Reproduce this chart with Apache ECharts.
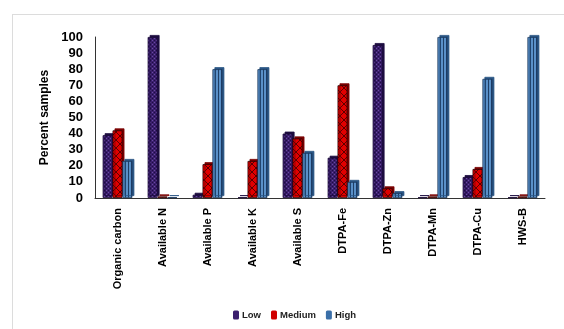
<!DOCTYPE html>
<html>
<head>
<meta charset="utf-8">
<script src="https://cdn.jsdelivr.net/npm/echarts@6/dist/echarts.min.js"></script>
<style>
  html, body { margin: 0; padding: 0; background: #fff; }
  #frame { position: absolute; left: 12px; top: 14px; width: 560px; height: 330px;
           border-left: 1px solid #dcdcdc; border-top: 1px solid #dcdcdc; }
  #chart { position: absolute; left: 0; top: 0; width: 564px; height: 329px; }
</style>
</head>
<body>
<div id="frame"></div>
<div id="chart"></div>
<script>
// Soil nutrient status: share of samples in each fertility class
const categories = ['Organic carbon', 'Available N', 'Available P', 'Available K', 'Available S',
                    'DTPA-Fe', 'DTPA-Zn', 'DTPA-Mn', 'DTPA-Cu', 'HWS-B'];
const lowValues    = [39, 100, 2, 0.5, 40, 25, 95, 0.5, 13, 0.5];
const mediumValues = [42, 1, 21, 23, 37, 70, 6, 1, 18, 1];
const highValues   = [23, 0.5, 80, 80, 28, 10, 3, 100, 74, 100];
const yTicks = [0, 10, 20, 30, 40, 50, 60, 70, 80, 90, 100];

// Small tiled fills for the bar faces
function tile(w, h, draw) {
  const c = document.createElement('canvas');
  c.width = w; c.height = h;
  draw(c.getContext('2d'));
  return { image: c, repeat: 'repeat' };
}
const lowFill = tile(4, 4, g => {
  g.fillStyle = '#3b1f6e'; g.fillRect(0, 0, 4, 4);
  g.fillStyle = '#6a4aa0'; g.fillRect(0, 0, 1, 1); g.fillRect(2, 2, 1, 1);
  g.fillStyle = '#1e0c42'; g.fillRect(2, 0, 1, 1); g.fillRect(0, 2, 1, 1);
});
const medFill = tile(8, 8, g => {
  g.fillStyle = '#e00000'; g.fillRect(0, 0, 8, 8);
  g.strokeStyle = '#3a0000'; g.lineWidth = 0.8;
  g.beginPath();
  g.moveTo(0, 0); g.lineTo(8, 8);
  g.moveTo(8, 0); g.lineTo(0, 8);
  g.stroke();
});
const highFill = tile(3, 4, g => {
  g.fillStyle = '#5a90c8'; g.fillRect(0, 0, 3, 4);
  g.fillStyle = '#1f3f66'; g.fillRect(2, 0, 1, 4);
});

function barSeries(name, data, fill, edge, side) {
  return {
    name: name, type: 'bar', data: data, barGap: '0%', barCategoryGap: '34%',
    itemStyle: {
      color: fill, borderColor: edge, borderWidth: 0.8,
      shadowColor: side, shadowBlur: 0, shadowOffsetX: 2, shadowOffsetY: -2
    }
  };
}

const flat = { borderWidth: 0, shadowBlur: 0, shadowOffsetX: 0, shadowOffsetY: 0 };

const chart = echarts.init(document.getElementById('chart'), null, { renderer: 'canvas' });
chart.setOption({
  animation: false,
  textStyle: { fontFamily: 'Liberation Sans, Arial, sans-serif' },
  grid: { left: 95, right: 19, top: 37, bottom: 131 },
  legend: {
    bottom: 4, left: 228, itemWidth: 6, itemHeight: 9, itemGap: 10,
    textStyle: { fontSize: 9.5, fontWeight: 'bold', color: '#222', padding: [0, 0, 0, -2] },
    data: [
      { name: 'Low', itemStyle: Object.assign({ color: '#3b1f6e' }, flat) },
      { name: 'Medium', itemStyle: Object.assign({ color: '#d00000' }, flat) },
      { name: 'High', itemStyle: Object.assign({ color: '#3a6fa8' }, flat) }
    ]
  },
  xAxis: {
    type: 'category', data: categories,
    axisLine: { lineStyle: { color: '#333', width: 1 } },
    axisTick: { show: false },
    axisLabel: { rotate: 90, fontSize: 11, fontWeight: 'bold', color: '#000', margin: 10 }
  },
  yAxis: {
    type: 'value', min: 0, max: 100, interval: 10,
    name: 'Percent samples', nameLocation: 'middle', nameGap: 42, nameRotate: 90,
    nameTextStyle: { fontSize: 12, fontWeight: 'bold', color: '#000' },
    axisLine: { show: true, lineStyle: { color: '#333', width: 1 } },
    axisTick: { show: false },
    splitLine: { show: false },
    axisLabel: {
      fontSize: 13, fontWeight: 'bold', color: '#000', margin: 12,
      formatter: v => yTicks.includes(v) ? String(v) : ''
    }
  },
  series: [
    barSeries('Low', lowValues, lowFill, '#1a0a38', '#1d0d40'),
    barSeries('Medium', mediumValues, medFill, '#300000', '#7a0000'),
    barSeries('High', highValues, highFill, '#1c3a60', '#2a5584')
  ]
});
</script>
</body>
</html>
